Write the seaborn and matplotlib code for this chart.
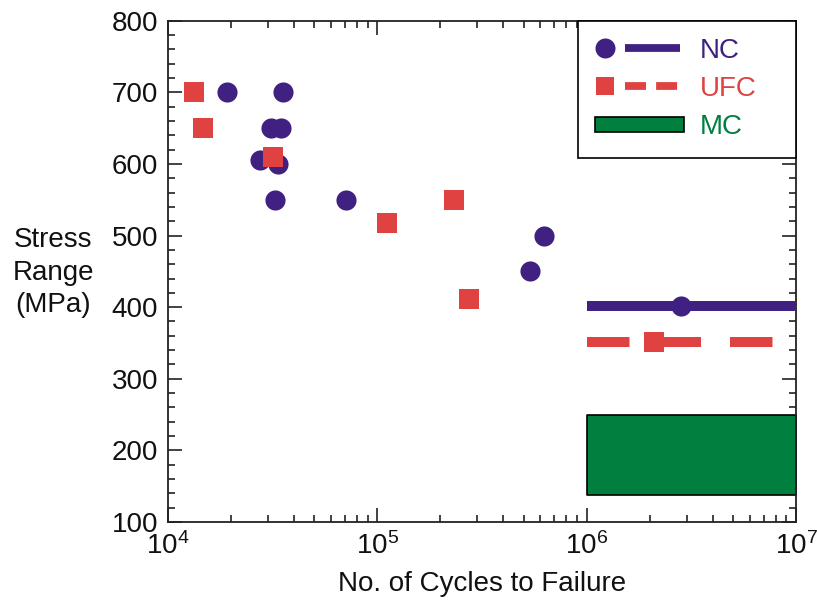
import numpy as np
import pandas as pd
import matplotlib
matplotlib.use("Agg")
import matplotlib.pyplot as plt
import seaborn as sns
from matplotlib.lines import Line2D
from matplotlib.patches import Rectangle
from matplotlib.legend_handler import HandlerBase
from matplotlib.ticker import LogLocator, MultipleLocator, LogFormatterMathtext

# Fatigue test results: cycles to failure vs. stress range
nc_cycles = [1.91e4, 3.54e4, 3.10e4, 3.47e4, 2.75e4, 3.36e4, 3.25e4, 7.08e4, 6.25e5, 5.37e5, 2.82e6]
nc_stress = [700, 700, 650, 650, 605, 600, 550, 550, 500, 450, 402]

ufc_cycles = [1.33e4, 1.47e4, 3.18e4, 1.11e5, 2.32e5, 2.74e5, 2.10e6]
ufc_stress = [700, 650, 610, 517, 550, 412, 351]

# Endurance limits (run-outs) from 1e6 to 1e7 cycles
limit_cycles = [1e6, 1e7]
nc_limit = 402
ufc_limit = 351
mc_band = [138, 250]

series_labels = ["NC", "UFC", "MC"]
purple = "#402080"
red = "#E04242"
green = "#007F3F"

sns.set_theme(style="ticks")
plt.rcParams["font.family"] = ["Liberation Sans", "DejaVu Sans"]
plt.rcParams["mathtext.fontset"] = "custom"
plt.rcParams["mathtext.rm"] = "Liberation Sans"
plt.rcParams["mathtext.it"] = "Liberation Sans:italic"
plt.rcParams["mathtext.bf"] = "Liberation Sans:bold"

FS = 20

fig = plt.figure(figsize=(8.17, 6.0), dpi=100)
ax = fig.add_axes([0.2056, 0.130, 0.7687, 0.8355])

nc_df = pd.DataFrame({"cycles": nc_cycles, "stress": nc_stress})
ufc_df = pd.DataFrame({"cycles": ufc_cycles, "stress": ufc_stress})

# MC band
ax.fill_between(limit_cycles, mc_band[0], mc_band[1], facecolor=green,
                edgecolor="black", linewidth=1.2, zorder=2)

# NC limit line
ax.plot(limit_cycles, [nc_limit, nc_limit], color=purple, lw=7.2,
        solid_capstyle="butt", zorder=3)
# UFC limit line (dashed)
ax.plot([limit_cycles[0], 10 ** 6.9], [ufc_limit, ufc_limit], color=red, lw=7.2,
        dashes=(4.25, 2.9), dash_capstyle="butt", zorder=3)

sns.scatterplot(data=nc_df, x="cycles", y="stress", ax=ax, color=purple,
                marker="o", s=210, linewidth=0, zorder=4, legend=False)
sns.scatterplot(data=ufc_df, x="cycles", y="stress", ax=ax, color=red,
                marker="s", s=190, linewidth=0, zorder=4, legend=False)

ax.set_xscale("log")
ax.set_xlim(1e4, 1e7)
ax.set_ylim(100, 800)

ax.xaxis.set_major_locator(LogLocator(base=10, numticks=10))
ax.xaxis.set_minor_locator(LogLocator(base=10, subs=np.arange(2, 10), numticks=20))
ax.xaxis.set_major_formatter(LogFormatterMathtext())
ax.yaxis.set_major_locator(MultipleLocator(100))
ax.yaxis.set_minor_locator(MultipleLocator(20))

ax.tick_params(which="both", direction="in", top=True, right=True,
               color="#222222", width=1.2, labelsize=FS, labelcolor="#111111")
ax.tick_params(which="major", length=10, pad=7)
ax.tick_params(which="minor", length=5)
for sp in ax.spines.values():
    sp.set_visible(True)
    sp.set_color("#222222")
    sp.set_linewidth(1.3)

ax.set_xlabel("No. of Cycles to Failure", fontsize=FS, color="#111111", labelpad=8)
ax.set_ylabel("Stress\nRange\n(MPa)", fontsize=FS, color="#111111", rotation=0,
              ha="center", va="center", multialignment="center", linespacing=1.32)
ax.yaxis.set_label_coords(-0.183, 0.497)


class MarkerLineHandler(HandlerBase):
    """Marker on the left with a separate line segment to its right."""

    def __init__(self, marker, msize, color, dashes=None, **kw):
        super().__init__(**kw)
        self.marker = marker
        self.msize = msize
        self.color = color
        self.dashes = dashes

    def create_artists(self, legend, orig_handle, xdescent, ydescent,
                       width, height, fontsize, trans):
        y = height / 2 - ydescent
        mk = Line2D([-xdescent + 0.115 * width], [y], marker=self.marker,
                    markersize=self.msize, color=self.color, linestyle="none",
                    markeredgewidth=0, transform=trans)
        ln = Line2D([-xdescent + 0.34 * width, -xdescent + 0.95 * width], [y, y],
                    color=self.color, lw=5.6, solid_capstyle="butt",
                    dash_capstyle="butt", transform=trans)
        if self.dashes is not None:
            ln.set_dashes(self.dashes)
        return [mk, ln]


h_nc = Line2D([], [], color=purple)
h_ufc = Line2D([], [], color=red)
h_mc = Rectangle((0, 0), 1, 1, facecolor=green, edgecolor="black", linewidth=1.2)

bb_x0 = (578 - 168) / 628
leg = ax.legend([h_nc, h_ufc, h_mc], series_labels,
                handler_map={h_nc: MarkerLineHandler("o", 14.4, purple),
                             h_ufc: MarkerLineHandler("s", 12.4, red, dashes=(2.7, 1.3))},
                loc="upper left", bbox_to_anchor=(bb_x0, 1.0, 1.0 - bb_x0, 0.0),
                mode="expand", borderaxespad=0, fontsize=FS, frameon=True,
                fancybox=False, edgecolor="black", framealpha=1,
                borderpad=0.62, labelspacing=0.44, handlelength=3.2,
                handleheight=0.5, handletextpad=0.58)
leg.get_frame().set_linewidth(1.2)
for txt, c in zip(leg.get_texts(), [purple, red, green]):
    txt.set_color(c)

fig.savefig("out.png", dpi=100)
